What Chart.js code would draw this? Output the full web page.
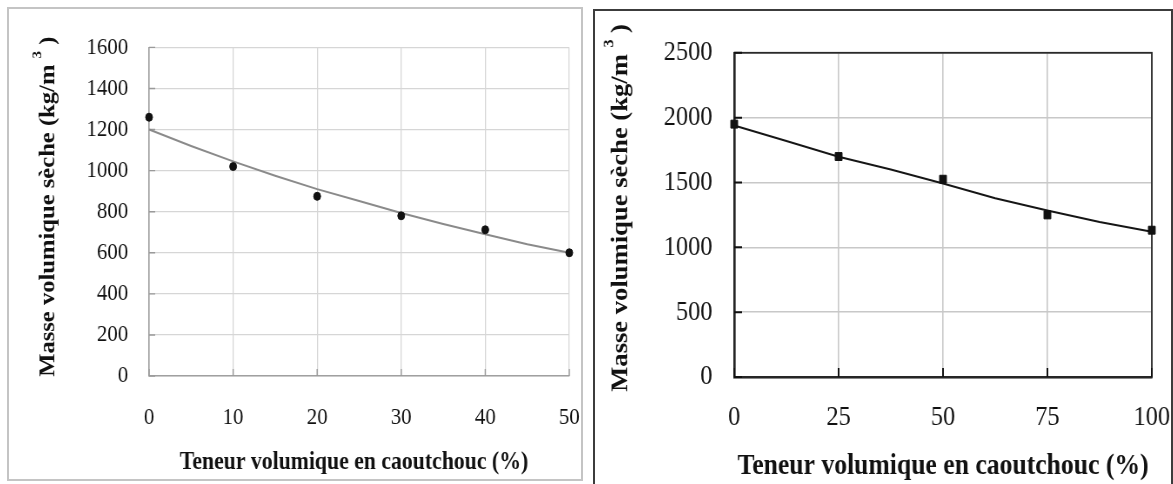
<!DOCTYPE html>
<html lang="fr">
<head>
  <meta charset="UTF-8" />
  <title>Masse volumique sèche</title>
  <script src="https://cdn.jsdelivr.net/npm/chart.js"></script>
  <style>
    body { margin: 0; background: #fff; width: 1173px; height: 484px; overflow: hidden; position: relative; }
    .panel { position: absolute; box-sizing: border-box; background: #fff; }
    #panelGauche { left: 7px; top: 7px; width: 576px; height: 474px; border: 2px solid #c4c4c4; }
    #panelDroite { left: 593px; top: 9px; width: 580px; height: 482px; border: 2px solid #3c3c3c; }
    /* le tracé d'origine est légèrement comprimé en largeur */
    .zone { position: absolute; left: 0; top: 0; transform: scaleX(0.87); transform-origin: 0 0; }
  </style>
</head>
<body>
  <div class="panel" id="panelGauche"><div class="zone"><canvas id="graphGauche" width="657" height="470"></canvas></div></div>
  <div class="panel" id="panelDroite"><div class="zone"><canvas id="graphDroite" width="662" height="478"></canvas></div></div>

  <script>
    // Graphique gauche : teneur 0 à 50 %
    const teneurG = [0, 10, 20, 30, 40, 50];
    const masseG = [1260, 1020, 875, 780, 712, 600];
    const teneurCourbeG = [0, 5, 10, 15, 20, 25, 30, 35, 40, 45, 50];
    const masseCourbeG = [1200, 1120, 1045, 975, 910, 852, 794, 740, 690, 642, 600];

    // Graphique droit : teneur 0 à 100 %
    const teneurD = [0, 25, 50, 75, 100];
    const masseD = [1950, 1700, 1525, 1250, 1132];
    const teneurCourbeD = [0, 12.5, 25, 37.5, 50, 62.5, 75, 87.5, 100];
    const masseCourbeD = [1940, 1820, 1698, 1600, 1492, 1378, 1284, 1195, 1120];

    const titreX = 'Teneur volumique en caoutchouc (%)';
    const titreY = 'Masse volumique sèche (kg/m';
    const police = '"Liberation Serif", "Times New Roman", serif';

    const points = (xs, ys) => xs.map((x, i) => ({ x: x, y: ys[i] }));
    const brut = v => String(v);

    // hauteur fixe de l'axe x, sans la marge ajoutée pour les étiquettes extrêmes
    const axeX = h => function (s) {
      s.height = h;
      s.paddingLeft = 0;
      s.paddingRight = 0;
    };

    // titres des axes (avec l'exposant), cadre et petites graduations
    const titresAxes = {
      id: 'titresAxes',
      beforeDatasetsDraw(chart, args, o) {
        const ctx = chart.ctx, a = chart.chartArea;
        const xs = chart.scales.x, ys = chart.scales.y;
        ctx.save();
        if (o.cadre) {
          ctx.strokeStyle = o.cadre;
          ctx.lineWidth = 1.8;
          ctx.strokeRect(a.left, a.top, a.right - a.left, a.bottom - a.top);
        }
        ctx.strokeStyle = o.couleurGrad;
        ctx.lineWidth = o.epaisseurGrad;
        ctx.beginPath();
        ys.ticks.forEach(t => {
          const py = ys.getPixelForValue(t.value);
          ctx.moveTo(a.left, py);
          ctx.lineTo(a.left + o.longGrad, py);
        });
        xs.ticks.forEach(t => {
          const px = xs.getPixelForValue(t.value);
          ctx.moveTo(px, a.bottom);
          ctx.lineTo(px, a.bottom - o.longGrad);
        });
        ctx.stroke();
        ctx.restore();
      },
      afterDraw(chart, args, o) {
        const ctx = chart.ctx, a = chart.chartArea;
        ctx.save();
        ctx.fillStyle = '#111';

        ctx.font = `bold ${o.tailleX}px ${police}`;
        ctx.textAlign = 'center';
        ctx.textBaseline = 'middle';
        ctx.fillText(titreX, (a.left + a.right) / 2 + o.decalX, a.bottom + o.basX);

        ctx.translate(o.ligneY, (a.top + a.bottom) / 2 + o.decalY);
        ctx.rotate(-Math.PI / 2);
        ctx.textAlign = 'left';
        ctx.textBaseline = 'alphabetic';
        const fPrinc = `bold ${o.tailleY}px ${police}`;
        const fExp = `bold ${o.tailleExp}px ${police}`;
        ctx.font = fPrinc;
        const lPrinc = ctx.measureText(titreY + ' ').width;
        const lFin = ctx.measureText(' )').width;
        ctx.font = fExp;
        const lExp = ctx.measureText('3').width;
        let x = -(lPrinc + lExp + lFin) / 2;
        ctx.font = fPrinc;
        ctx.fillText(titreY, x, 0);
        x += lPrinc;
        ctx.font = fExp;
        ctx.fillText('3', x, -o.hautExp);
        x += lExp;
        ctx.font = fPrinc;
        ctx.fillText(' )', x, 0);
        ctx.restore();
      }
    };

    const graphGauche = new Chart(document.getElementById('graphGauche'), {
      type: 'scatter',
      data: {
        datasets: [{
          data: points(teneurG, masseG),
          backgroundColor: '#111',
          borderColor: '#111',
          pointRadius: 4,
          clip: false
        }, {
          data: points(teneurCourbeG, masseCourbeG),
          showLine: true,
          borderColor: '#8a8a8a',
          borderWidth: 2,
          pointRadius: 0,
          clip: false
        }]
      },
      options: {
        responsive: false,
        animation: false,
        events: [],
        layout: { padding: { left: 0, right: 13, top: 19, bottom: 0 } },
        plugins: {
          legend: { display: false },
          tooltip: { enabled: false },
          titresAxes: {
            tailleX: 25, decalX: -6, basX: 87,
            tailleY: 24.6, tailleExp: 15, hautExp: 15, ligneY: 52, decalY: -5,
            couleurGrad: '#9a9a9a', epaisseurGrad: 1.4, longGrad: 7
          }
        },
        scales: {
          x: {
            type: 'linear', min: 0, max: 50,
            afterFit: axeX(103),
            ticks: { stepSize: 10, color: '#111', padding: 27, callback: brut, font: { family: police, size: 24 } },
            grid: { color: '#d6d6d6', lineWidth: 1.3, drawTicks: false },
            border: { color: '#a0a0a0', width: 1.6 }
          },
          y: {
            min: 0, max: 1600,
            afterFit(s) { s.width = 161; },
            ticks: { stepSize: 200, color: '#111', padding: 24, callback: brut, font: { family: police, size: 24 } },
            grid: { color: '#d6d6d6', lineWidth: 1.3, drawTicks: false },
            border: { color: '#a0a0a0', width: 1.6 }
          }
        }
      },
      plugins: [titresAxes]
    });

    const graphDroite = new Chart(document.getElementById('graphDroite'), {
      type: 'scatter',
      data: {
        datasets: [{
          data: points(teneurD, masseD),
          backgroundColor: '#111',
          borderColor: '#111',
          pointStyle: 'rect',
          pointRadius: 5.6,
          clip: false
        }, {
          data: points(teneurCourbeD, masseCourbeD),
          showLine: true,
          borderColor: '#151515',
          borderWidth: 2,
          pointRadius: 0,
          clip: false
        }]
      },
      options: {
        responsive: false,
        animation: false,
        events: [],
        layout: { padding: { left: 0, right: 22, top: 24, bottom: 0 } },
        plugins: {
          legend: { display: false },
          tooltip: { enabled: false },
          titresAxes: {
            cadre: '#2a2a2a',
            tailleX: 29.5, decalX: 0, basX: 89,
            tailleY: 26.6, tailleExp: 16, hautExp: 16, ligneY: 37, decalY: -7,
            couleurGrad: '#111', epaisseurGrad: 2, longGrad: 9
          }
        },
        scales: {
          x: {
            type: 'linear', min: 0, max: 100,
            afterFit: axeX(112),
            ticks: { stepSize: 25, color: '#111', padding: 24, callback: brut, font: { family: police, size: 28 } },
            grid: { color: '#c8c8c8', lineWidth: 1.6, drawTicks: false },
            border: { color: '#111', width: 2.6 }
          },
          y: {
            min: 0, max: 2500,
            afterFit(s) { s.width = 160; },
            ticks: { stepSize: 500, color: '#111', padding: 25, callback: brut, font: { family: police, size: 28 } },
            grid: { color: '#c8c8c8', lineWidth: 1.6, drawTicks: false },
            border: { color: '#111', width: 2.6 }
          }
        }
      },
      plugins: [titresAxes]
    });
  </script>
</body>
</html>
